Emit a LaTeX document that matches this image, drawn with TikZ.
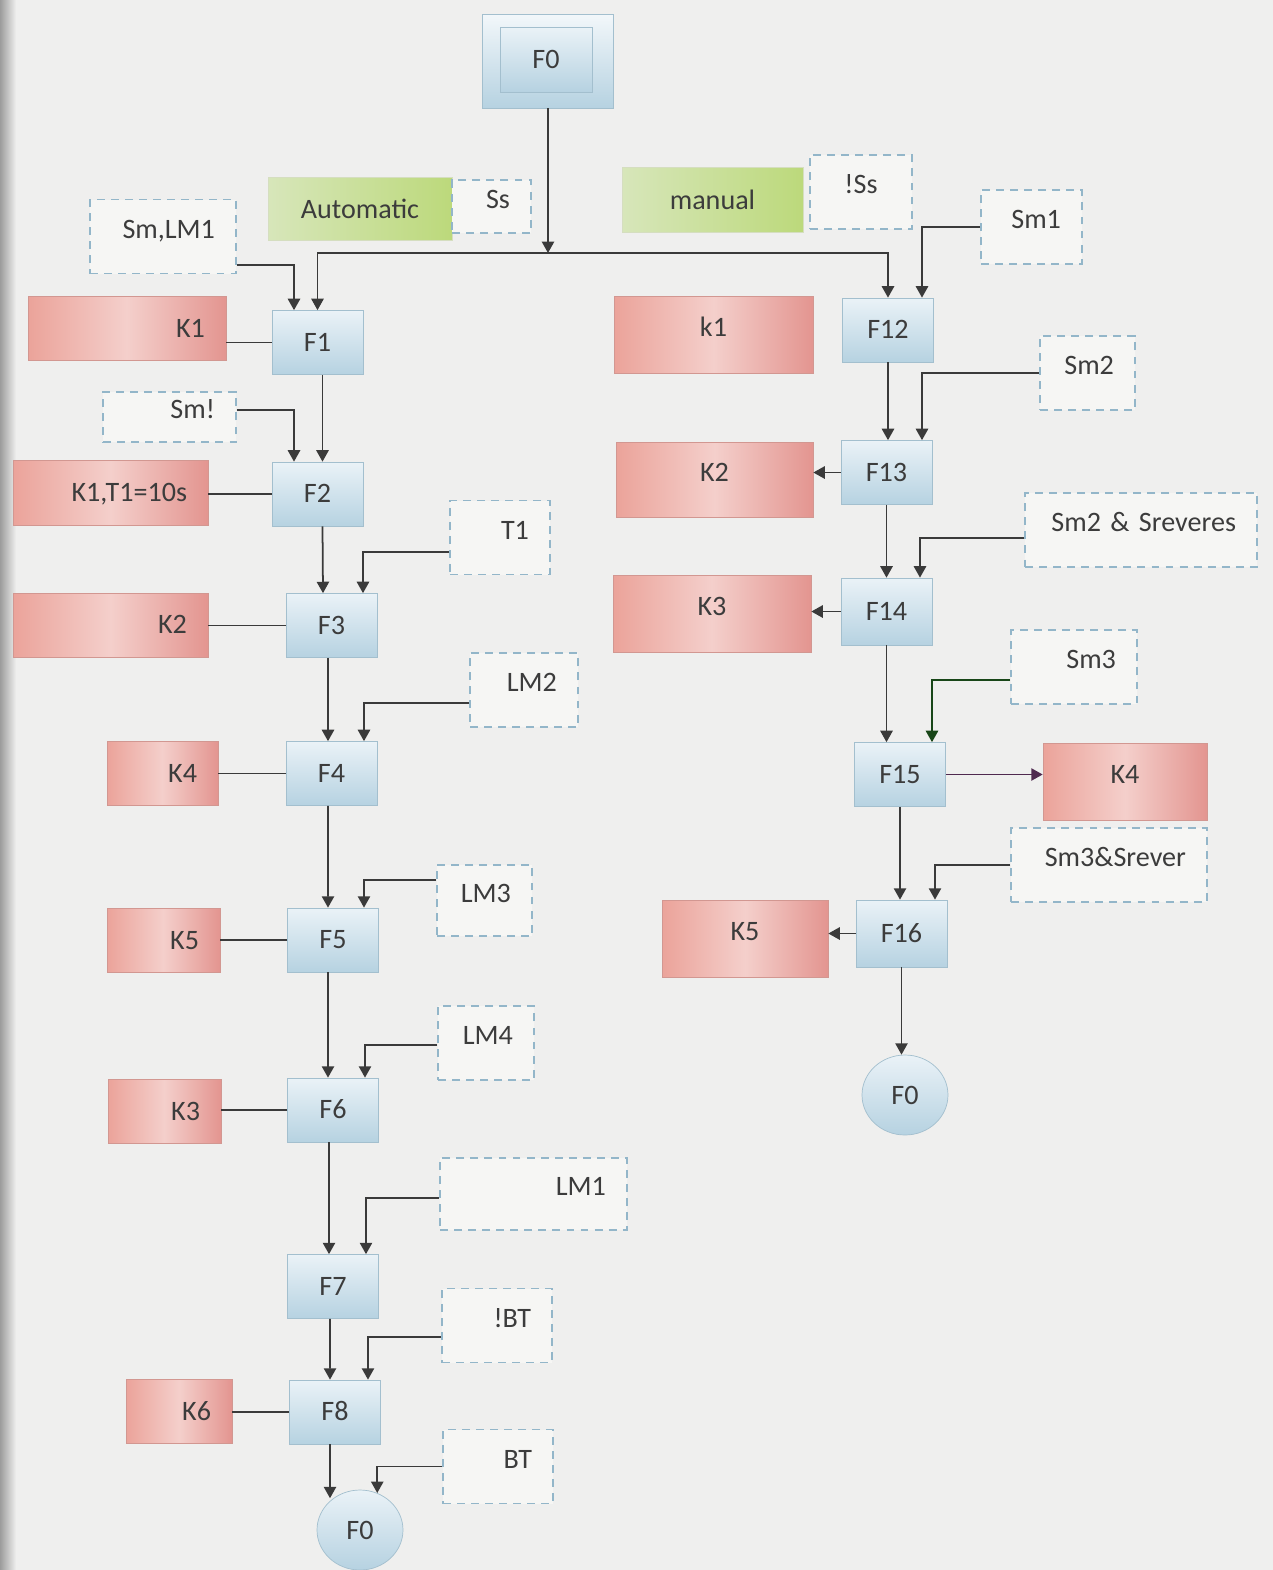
\documentclass[tikz,border=0pt]{standalone}
\usepackage{fontspec}
\setmainfont{Carlito}
\usetikzlibrary{arrows.meta,shapes.geometric}

\definecolor{paper}{HTML}{EFEFEE}
\definecolor{scan}{HTML}{9C9C9C}
\definecolor{ink}{HTML}{3C3C3C}
\definecolor{wireink}{HTML}{3A3A3A}
\definecolor{steptop}{HTML}{EAF2F7}
\definecolor{stepbot}{HTML}{B6D2E1}
\definecolor{stepline}{HTML}{A3BFCE}
\definecolor{coilA}{HTML}{EBA39A}
\definecolor{coilB}{HTML}{F4CFCB}
\definecolor{coilC}{HTML}{E39590}
\definecolor{coilline}{HTML}{D29791}
\definecolor{modeA}{HTML}{D7E6BA}
\definecolor{modeB}{HTML}{BCD97B}
\definecolor{condline}{HTML}{93B6C9}
\definecolor{condfill}{HTML}{F6F6F4}

\tikzset{
  >={Triangle[width=7pt,length=6.5pt]},
  every node/.style={font=\fontsize{16}{19}\selectfont, text=ink},
  wire/.style={draw=wireink, line width=1pt},
  fstep/.style={draw=stepline, top color=steptop, bottom color=stepbot, minimum width=1.82cm, minimum height=1.28cm, text height=10pt, text depth=0pt},
  endstep/.style={ellipse, draw=stepline, top color=steptop, bottom color=stepbot, minimum width=1.72cm, minimum height=1.6cm, inner sep=0pt},
  coil/.style={draw=coilline, left color=coilA, right color=coilC, middle color=coilB, minimum height=1.28cm, text height=10pt, text depth=0pt},
  coilleft/.style={coil, text width=#1, align=right, inner xsep=0.42cm},
  coilright/.style={coil, minimum height=1.54cm, text depth=8pt},
  modebox/.style={draw=modeB!80!black!40, left color=modeA, right color=modeB},
  cond/.style={draw=condline, fill=condfill, dash pattern=on 4.5pt off 3.5pt, line width=1.1pt, text width=#1, align=right, inner xsep=0.42cm, minimum height=1.48cm, text height=10pt, text depth=8pt}
}

\begin{document}
\begin{tikzpicture}[x=0.02cm,y=-0.02cm]
\useasboundingbox (0,0) rectangle (1273,1570);
\fill[paper] (0,0) rectangle (1273,1570);
\fill[left color=scan, right color=paper] (0,0) rectangle (16,1570);

% start step
\node[fstep, minimum width=2.62cm, minimum height=1.88cm, top color=steptop!60!white] (F0out) at (548,61) {};
\node[fstep, minimum width=1.84cm, minimum height=1.3cm] (F0) at (546,59.5) {F0};

% modes
\node[modebox, minimum width=3.68cm, minimum height=1.26cm] (auto) at (360,208.5) {Automatic};
\node[cond=0.74cm, minimum height=1.06cm] (Ss) at (491.5,206.5) {Ss};
\node[modebox, minimum width=3.62cm, minimum height=1.3cm] (manual) at (712.5,199.5) {manual};
\node[cond=1.2cm, align=center] (nSs) at (861,192) {!Ss};

% automatic sequence
\node[fstep] (F1) at (317.5,342.5) {F1};
\node[fstep] (F2) at (317.5,494) {F2};
\node[fstep] (F3) at (331.5,625.5) {F3};
\node[fstep] (F4) at (331.5,773.5) {F4};
\node[fstep] (F5) at (333,940) {F5};
\node[fstep] (F6) at (333,1110) {F6};
\node[fstep] (F7) at (333,1286.5) {F7};
\node[fstep] (F8) at (335,1412) {F8};
\node[endstep] (F0l) at (360,1530) {F0};

\node[coilleft=3.12cm] (K1l) at (127,328.5) {K1};
\node[coilleft=3.06cm, minimum height=1.3cm] (K1T) at (110.5,492.5) {K1,T1=10s};
\node[coilleft=3.06cm] (K2l) at (110.5,625) {K2};
\node[coilleft=1.38cm] (K4l) at (162.5,773.5) {K4};
\node[coilleft=1.42cm] (K5l) at (163.5,940.5) {K5};
\node[coilleft=1.42cm] (K3l) at (164.5,1111.5) {K3};
\node[coilleft=1.28cm] (K6l) at (179,1411.5) {K6};

\node[cond=2.08cm] (SmLM) at (163,236.5) {Sm,LM1};
\node[cond=1.82cm, minimum height=1cm] (Smn) at (169.5,417) {Sm!};
\node[cond=1.16cm] (T1) at (500,537.5) {T1};
\node[cond=1.32cm] (LM2) at (524,690) {LM2};
\node[cond=1.06cm, minimum height=1.42cm] (LM3) at (484.5,900.5) {LM3};
\node[cond=1.08cm] (LM4) at (486,1043) {LM4};
\node[cond=2.9cm, minimum height=1.44cm] (LM1) at (533.5,1194) {LM1};
\node[cond=1.36cm] (nBT) at (497,1325.5) {!BT};
\node[cond=1.36cm] (BT) at (498,1466.5) {BT};

% manual sequence
\node[fstep] (F12) at (888,330) {F12};
\node[fstep] (F13) at (886.5,472.5) {F13};
\node[fstep, minimum height=1.34cm] (F14) at (886.5,611.5) {F14};
\node[fstep] (F15) at (900,774.5) {F15};
\node[fstep, minimum height=1.34cm] (F16) at (901.5,933.5) {F16};
\node[endstep] (F0r) at (905,1095) {F0};

\node[coilright, minimum width=3.98cm] (k1r) at (713.5,334.5) {k1};
\node[coilright, minimum width=3.94cm, minimum height=1.5cm] (K2r) at (714.5,479.5) {K2};
\node[coilright, minimum width=3.96cm] (K3r) at (712,613.5) {K3};
\node[coilright, minimum width=3.28cm] (K4r) at (1125,781.5) {K4};
\node[coilright, minimum width=3.32cm] (K5r) at (745,938.5) {K5};

\node[cond=1.18cm] (Sm1) at (1031.5,227) {Sm1};
\node[cond=1.06cm] (Sm2) at (1087.5,373) {Sm2};
\node[cond=3.8cm] (SmSr2) at (1141,530) {Sm2 \& Sreveres};
\node[cond=1.68cm] (Sm3) at (1074,667) {Sm3};
\node[cond=3.08cm] (SmSr3) at (1109,865) {Sm3\&Srever};

% branching
\coordinate (split) at (548,253);
\draw[wire,->] (F0out.south) -- (split);
\draw[wire,->] (split) -| (F1.north);
\draw[wire,->] (split) -| (F12.north);

% automatic links
\draw[wire,->] ([yshift=-0.57cm]SmLM.east) -| ([xshift=-0.47cm]F1.north);
\draw[wire,->] ([xshift=0.1cm]F1.south) -- ([xshift=0.1cm]F2.north);
\draw[wire,->] ([yshift=0.14cm]Smn.east) -| ([xshift=-0.47cm]F2.north);
\draw[wire,->] ([xshift=0.1cm]F2.south) -- ([xshift=-0.17cm]F3.north);
\draw[wire,->] ([yshift=-0.29cm]T1.west) -| ([xshift=0.63cm]F3.north);
\draw[wire,->] ([xshift=-0.07cm]F3.south) -- ([xshift=-0.07cm]F4.north);
\draw[wire,->] ([yshift=-0.26cm]LM2.west) -| ([xshift=0.65cm]F4.north);
\draw[wire,->] ([xshift=-0.07cm]F4.south) -- ([xshift=-0.1cm]F5.north);
\draw[wire,->] ([yshift=0.41cm]LM3.west) -| ([xshift=0.62cm]F5.north);
\draw[wire,->] ([xshift=-0.1cm]F5.south) -- ([xshift=-0.1cm]F6.north);
\draw[wire,->] ([yshift=-0.04cm]LM4.west) -| ([xshift=0.64cm]F6.north);
\draw[wire,->] ([xshift=-0.08cm]F6.south) -- ([xshift=-0.08cm]F7.north);
\draw[wire,->] ([yshift=-0.08cm]LM1.west) -| ([xshift=0.66cm]F7.north);
\draw[wire,->] ([xshift=-0.06cm]F7.south) -- ([xshift=-0.1cm]F8.north);
\draw[wire,->] ([yshift=-0.23cm]nBT.west) -| ([xshift=0.66cm]F8.north);
\draw[wire,->] ([xshift=-0.1cm]F8.south) -- ([xshift=-0.1cm]F8.south |- F0l.130);
\draw[wire,->] (BT.west) -| (F0l.65);

\draw[wire] (F1.west) -- (F1.west -| K1l.east);
\draw[wire] (F2.west) -- (F2.west -| K1T.east);
\draw[wire] (F3.west) -- (F3.west -| K2l.east);
\draw[wire] (F4.west) -- (F4.west -| K4l.east);
\draw[wire] (F5.west) -- (F5.west -| K5l.east);
\draw[wire] (F6.west) -- (F6.west -| K3l.east);
\draw[wire] (F8.west) -- (F8.west -| K6l.east);

% manual links
\draw[wire,->] (Sm1.west) -| ([xshift=0.68cm]F12.north);
\draw[wire,->] (F12.south) -- (F12.south |- F13.north);
\draw[wire,->] (Sm2.west) -| ([xshift=0.71cm]F13.north);
\draw[wire,->] (F13.south) -- (F14.north);
\draw[wire,->] ([yshift=-0.16cm]SmSr2.west) -| ([xshift=0.67cm]F14.north);
\draw[wire,->] (F14.south) -- (F14.south |- F15.north);
\draw[wire,->,draw=wireink!70!green!60!black] ([yshift=-0.26cm]Sm3.west) -| ([xshift=0.64cm]F15.north);
\draw[wire,->] (F15.south) -- (F15.south |- F16.north);
\draw[wire,->] (SmSr3.west) -| ([xshift=0.67cm]F16.north);
\draw[wire,->] (F16.south) -- (F16.south |- F0r.north);

\draw[wire,->] (F13.west) -- (F13.west -| K2r.east);
\draw[wire,->] (F14.west) -- (F14.west -| K3r.east);
\draw[wire,->,draw=wireink!70!violet] (F15.east) -- (F15.east -| K4r.west);
\draw[wire,->] (F16.west) -- (F16.west -| K5r.east);
\end{tikzpicture}
\end{document}
